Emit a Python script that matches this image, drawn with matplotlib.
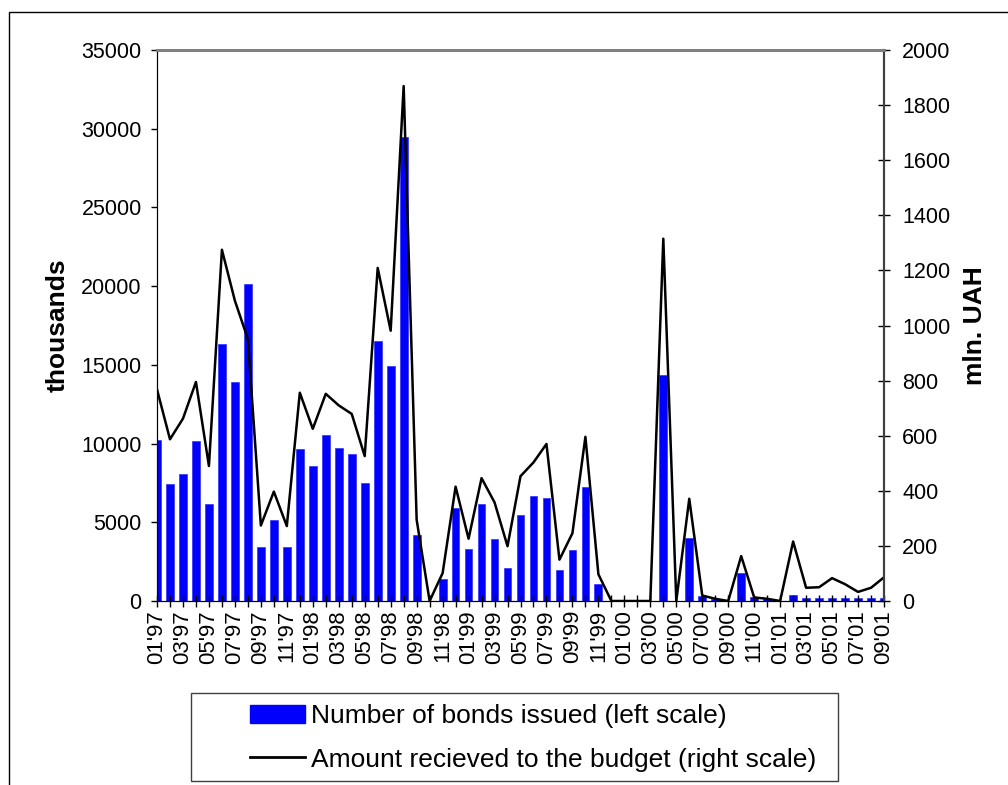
import numpy as np
import matplotlib
matplotlib.use('Agg')
import matplotlib.pyplot as plt
from matplotlib.patches import Rectangle
from matplotlib.lines import Line2D

plt.rcParams['font.family'] = ['Liberation Sans', 'DejaVu Sans']

# monthly series, January 1997 - September 2001
bonds = [10200, 7460, 8070, 10180, 6190, 16300, 13890, 20140, 3430, 5120,
         3430, 9670, 8580, 10520, 9740, 9340, 7510, 16500, 14900, 29490,
         4170, 0, 1390, 5890, 3290, 6140, 3920, 2110, 5450, 6700,
         6560, 1970, 3220, 7210, 1070, 0, 0, 0, 0, 14330,
         0, 4010, 320, 100, 0, 1810, 250, 100, 0, 360,
         170, 170, 170, 170, 170, 170, 170]
amount = [768, 587, 662, 795, 490, 1275, 1090, 951, 274, 397,
          272, 756, 625, 752, 710, 679, 526, 1209, 981, 1869,
          295, 0, 101, 415, 226, 446, 358, 199, 453, 503,
          570, 150, 246, 596, 97, 0, 0, 0, 0, 1315,
          0, 371, 20, 8, 0, 163, 13, 8, 0, 216,
          48, 50, 83, 61, 33, 48, 86]
tick_labels = ["01'97", "03'97", "05'97", "07'97", "09'97", "11'97",
               "01'98", "03'98", "05'98", "07'98", "09'98", "11'98",
               "01'99", "03'99", "05'99", "07'99", "09'99", "11'99",
               "01'00", "03'00", "05'00", "07'00", "09'00", "11'00",
               "01'01", "03'01", "05'01", "07'01", "09'01"]

x = np.arange(len(bonds))

fig = plt.figure(figsize=(10.08, 7.85), dpi=100)
ax = fig.add_axes([157/1008, 184/785, 727/1008, 551/785])

ax.bar(x, bonds, width=0.6, color='#0000ff', edgecolor='#3030ff', linewidth=0.5)
ax.set_xlim(0, len(bonds) - 1)
ax.set_ylim(0, 35000)
ax.set_yticks(np.arange(0, 35001, 5000))
ax.set_xticks(x)
labels = [''] * len(x)
for i, lab in zip(x[::2], tick_labels):
    labels[i] = lab
ax.set_xticklabels(labels, rotation=90, fontsize=16)
ax.tick_params(axis='x', direction='inout', length=9, width=1, pad=2)
ax.tick_params(axis='y', direction='out', length=4, width=1, labelsize=15.5, pad=7)
ax.set_ylabel('thousands', fontsize=19, fontweight='bold', labelpad=8)

ax2 = ax.twinx()
ax2.plot(x, amount, color='black', linewidth=1.8)
ax2.set_ylim(0, 2000)
ax2.set_yticks(np.arange(0, 2001, 200))
ax2.tick_params(axis='y', direction='inout', length=8, width=1, labelsize=15.5, pad=9)
ax2.set_ylabel('mln. UAH', fontsize=19, fontweight='bold', labelpad=9)

for a in (ax, ax2):
    a.spines['top'].set_color('#808080')
    a.spines['top'].set_linewidth(2)
    a.spines['left'].set_color('black')
    a.spines['bottom'].set_color('black')
    a.spines['right'].set_color('#404040')
    a.spines['right'].set_linewidth(1.5)

# outer chart frame and legend box
fig.patches.append(Rectangle((9/1008, -0.1), 1.2, (773/785) + 0.1,
                             transform=fig.transFigure, fill=False,
                             edgecolor='black', linewidth=1))
fig.patches.append(Rectangle((191/1008, 4/785), 647/1008, 88/785,
                             transform=fig.transFigure, fill=False,
                             edgecolor='#404040', linewidth=1))

handles = [Rectangle((0, 0), 1, 1, color='#0000ff'),
           Line2D([0], [0], color='black', linewidth=2)]
fig.legend(handles, ['Number of bonds issued (left scale)',
                     'Amount recieved to the budget (right scale)'],
           loc='upper left', bbox_to_anchor=(250/1008, 81/785),
           frameon=False, fontsize=19, borderpad=0, borderaxespad=0,
           handlelength=2.1, handleheight=0.7, handletextpad=0.2,
           labelspacing=0.74)

fig.savefig('out.png', dpi=100)
